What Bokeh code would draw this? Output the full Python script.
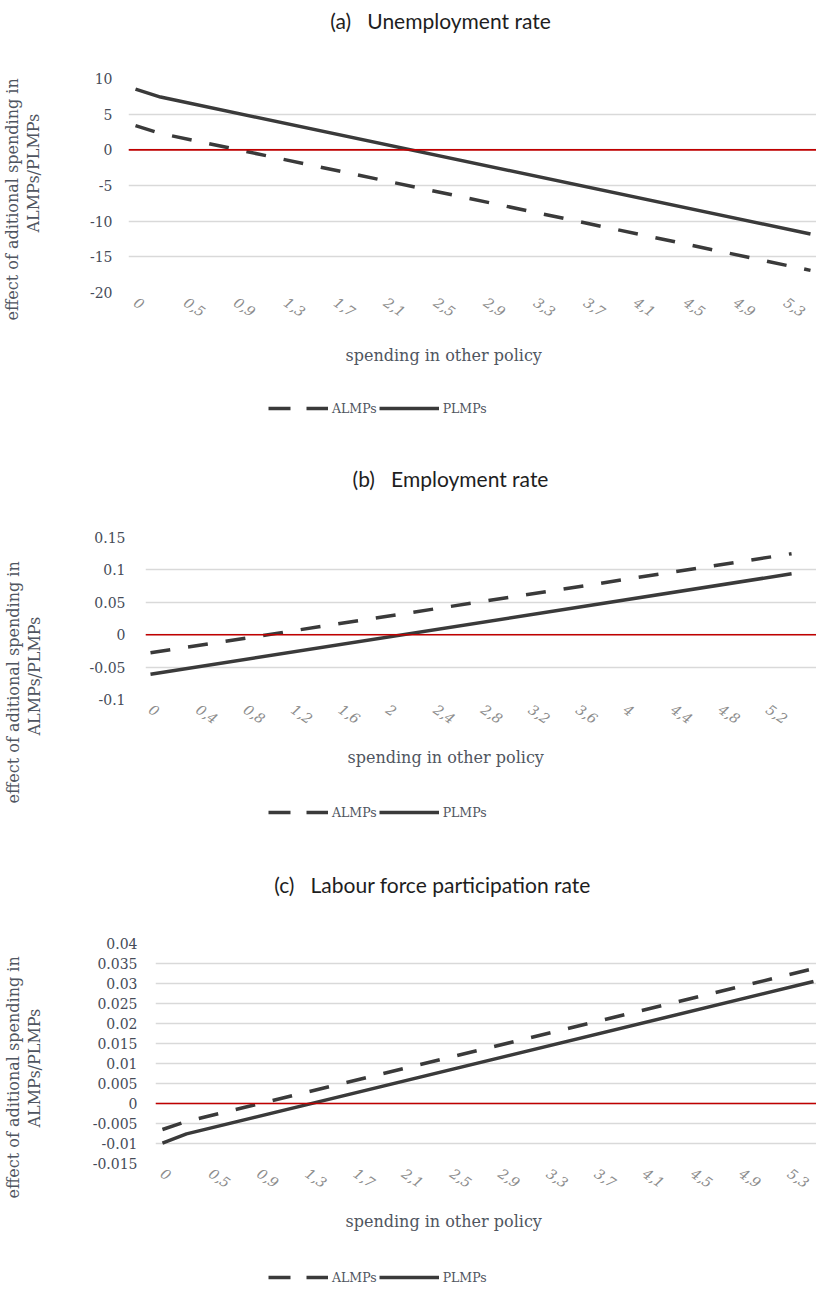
from bokeh.plotting import figure
from bokeh.models import Span, Legend, LegendItem, FixedTicker, Title, Range1d
from bokeh.core.properties import value
from bokeh.embed import file_html
from bokeh.resources import INLINE

# ---------------- data (category index along x, value along y) ----------------
tick_idx = [0, 4, 8, 12, 16, 20, 24, 28, 32, 36, 40, 44, 48, 52]
labels_a = ["0", "0,5", "0,9", "1,3", "1,7", "2,1", "2,5", "2,9", "3,3", "3,7", "4,1", "4,5", "4,9", "5,3"]
labels_b = ["0", "0,4", "0,8", "1,2", "1,6", "2", "2,4", "2,8", "3,2", "3,6", "4", "4,4", "4,8", "5,2"]
labels_c = ["0", "0,5", "0,9", "1,3", "1,7", "2,1", "2,5", "2,9", "3,3", "3,7", "4,1", "4,5", "4,9", "5,3"]

a_x = [0, 2, 54]
a_almp = [3.4, 2.3, -16.9]
a_plmp = [8.5, 7.4, -11.8]

b_x = [0, 54]
b_almp = [-0.028, 0.125]
b_plmp = [-0.061, 0.094]

c_x = [0, 2, 54]
c_almp = [-0.0065, -0.0045, 0.0337]
c_plmp = [-0.0099, -0.0076, 0.0305]

a_yticks = [-20, -15, -10, -5, 0, 5, 10]
b_yticks = [-0.1, -0.05, 0, 0.05, 0.1, 0.15]
c_yticks = [-0.015, -0.01, -0.005, 0, 0.005, 0.01, 0.015, 0.02, 0.025, 0.03, 0.035, 0.04]

titles = ["(a)\u00a0\u00a0\u00a0Unemployment rate",
          "(b)\u00a0\u00a0\u00a0Employment rate",
          "(c)\u00a0\u00a0\u00a0Labour force participation rate"]
ylab1 = "effect of aditional spending in"
ylab2 = "ALMPs/PLMPs"
xlab = "spending in other policy"
series_names = ["ALMPs", "PLMPs"]

SERIF = "DejaVu Serif"
SANS = "Lato"
LINE_COL = "#3a3a3a"
TXT = "#4f5560"
PAGE_W = 816
DASH = "20 18"
NAN = float("nan")


def fmt_int(v):
    return str(int(v))


def fmt_dec(v):
    if v == 0:
        return "0"
    return ("%.3f" % v).rstrip("0").rstrip(".")


def chart(left, top, fh, bottom, xr, yr, yticks, yfmt, xlabels, xs, almp, plmp,
          tick_sd, spacer, y1_off, y2_off, xlab_off, xlab_sd):
    p = figure(width=PAGE_W, height=top + fh + bottom, x_range=xr, y_range=yr,
               output_backend="svg", toolbar_location=None,
               min_border_left=left, min_border_right=0,
               min_border_top=top, min_border_bottom=bottom)
    p.outline_line_color = None
    p.xgrid.grid_line_color = None
    p.ygrid.grid_line_color = "#d9d9d9"
    p.ygrid.grid_line_width = 1.5
    p.yaxis.ticker = FixedTicker(ticks=yticks)
    p.yaxis.major_label_overrides = {v: yfmt(v) for v in yticks}
    p.xaxis.ticker = FixedTicker(ticks=tick_idx)
    p.xaxis.major_label_overrides = {t: l for t, l in zip(tick_idx, xlabels)}
    for ax in (p.xaxis, p.yaxis):
        ax.axis_line_color = None
        ax.major_tick_line_color = None
        ax.minor_tick_line_color = None
        ax.major_tick_out = 0
        ax.major_tick_in = 0
        ax.minor_tick_out = 0
        ax.minor_tick_in = 0
    p.yaxis.major_label_text_font = SERIF
    p.yaxis.major_label_text_font_size = "14px"
    p.yaxis.major_label_text_color = "#454b58"
    p.yaxis.major_label_standoff = tick_sd
    # blank axis label used only as a spacer between tick labels and the titles
    p.yaxis.axis_label = "\u00a0"
    p.yaxis.axis_label_text_font_size = "2px"
    p.yaxis.axis_label_standoff = spacer
    p.xaxis.major_label_text_font = SERIF
    p.xaxis.major_label_text_font_style = "italic"
    p.xaxis.major_label_text_font_size = "14px"
    p.xaxis.major_label_text_color = "#8c8c8c"
    p.xaxis.major_label_orientation = -0.6
    p.xaxis.major_label_standoff = 8

    p.add_layout(Span(location=0, dimension="width", line_color="#c00000", line_width=1.6))

    p.line(xs, almp, line_color=LINE_COL, line_width=3.5, line_dash=DASH)
    p.line(xs, plmp, line_color=LINE_COL, line_width=3.5)

    p.add_layout(Title(text=ylab2, align="left", offset=y2_off, standoff=0,
                       text_font=SERIF, text_font_size="16px", text_font_style="normal",
                       text_color=TXT), "left")
    p.add_layout(Title(text=ylab1, align="left", offset=y1_off, standoff=0,
                       text_font=SERIF, text_font_size="16px", text_font_style="normal",
                       text_color=TXT), "left")
    p.add_layout(Title(text=xlab, align="left", offset=xlab_off, vertical_align="top",
                       standoff=xlab_sd, text_font=SERIF, text_font_size="16px",
                       text_font_style="normal", text_color=TXT), "below")
    return p


def strip(y_top, h, legend_left=None, legend_cy=None, title=None, title_pos=None):
    s = figure(width=PAGE_W, height=h, x_range=Range1d(0, PAGE_W),
               y_range=Range1d(y_top + h, y_top), output_backend="svg",
               toolbar_location=None, x_axis_location=None, y_axis_location=None,
               min_border_left=0, min_border_right=0, min_border_top=0, min_border_bottom=0)
    s.grid.visible = False
    s.outline_line_color = None
    if title is not None:
        s.text(x=[title_pos[0]], y=[title_pos[1]], text=[title], text_align="center",
               text_baseline="middle", text_font=value(SANS), text_font_size="21px",
               text_color="#1e1e1e")
    if legend_left is not None:
        # legend proxies (no visible data)
        r1 = s.line(x=[NAN, NAN], y=[NAN, NAN], line_color=LINE_COL, line_width=3.5,
                    line_dash="22 16")
        r2 = s.line(x=[NAN, NAN], y=[NAN, NAN], line_color=LINE_COL, line_width=3.5)
        leg = Legend(items=[LegendItem(label=series_names[0], renderers=[r1]),
                            LegendItem(label=series_names[1], renderers=[r2])],
                     location=(legend_left, (y_top + h) - (legend_cy + 8)),
                     orientation="horizontal",
                     glyph_width=60, glyph_height=16, label_height=16, label_standoff=4,
                     spacing=2, padding=0, margin=0, border_line_color=None,
                     background_fill_alpha=0, label_text_font=SERIF,
                     label_text_font_size="12.5px", label_text_color=TXT,
                     label_text_baseline="middle")
        s.add_layout(leg, "center")
    return s


s1 = strip(0, 68, title=titles[0], title_pos=(440, 20))
ca = chart(128, 10, 214, 104, (-0.56, 54.48), (-20, 10), a_yticks, fmt_int, labels_a,
           a_x, a_almp, a_plmp, tick_sd=16, spacer=39,
           y1_off=292 - 320, y2_off=292 - 232, xlab_off=345 - 128, xlab_sd=40)
s2 = strip(396, 131, legend_left=268, legend_cy=408, title=titles[1], title_pos=(450, 478))
cb = chart(145, 10, 162, 104, (-0.42, 56.1), (-0.1, 0.15), b_yticks, fmt_dec, labels_b,
           b_x, b_almp, b_plmp, tick_sd=20, spacer=38,
           y1_off=699 - 803, y2_off=699 - 735, xlab_off=347 - 145, xlab_sd=30)
s3 = strip(803, 130, legend_left=268, legend_cy=812, title=titles[2], title_pos=(432, 884))
cc = chart(155, 10, 220, 100, (-0.575, 54.25), (-0.015, 0.04), c_yticks, fmt_dec, labels_c,
           c_x, c_almp, c_plmp, tick_sd=18, spacer=41,
           y1_off=1163 - 1198, y2_off=1163 - 1127, xlab_off=345 - 155, xlab_sd=30)
s4 = strip(1263, 24, legend_left=268, legend_cy=1277)

open("out.html", "w").write(file_html([s1, ca, s2, cb, s3, cc, s4], INLINE))
